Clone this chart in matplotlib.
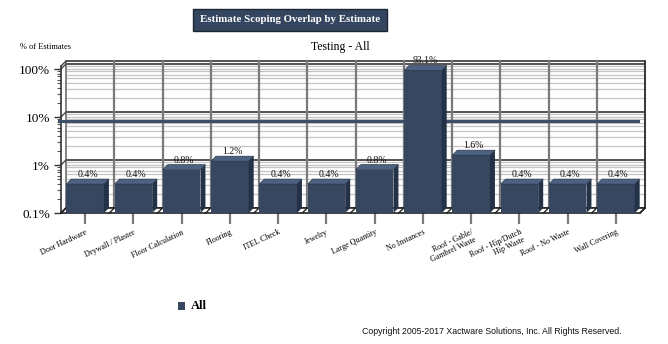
import matplotlib
matplotlib.use('Agg')
import matplotlib.pyplot as plt
from matplotlib.patches import Polygon, Rectangle
import numpy as np

categories = ["Door Hardware", "Drywall / Plaster", "Floor Calculation", "Flooring",
              "ITEL Check", "Jewelry", "Large Quantity", "No Instances",
              "Roof - Gable/\nGambrel Waste", "Roof - Hip/Dutch\nHip Waste",
              "Roof - No Waste", "Wall Covering"]
values = [0.4, 0.4, 0.8, 1.2, 0.4, 0.4, 0.8, 93.1, 1.6, 0.4, 0.4, 0.4]
y_ticks = [0.1, 1, 10, 100]
y_labels = ["0.1%", "1%", "10%", "100%"]
series_name = "All"

BAR = "#36475f"
TOP = "#4d6282"
SIDE = "#243247"
SERIF = "Liberation Serif"

W, H = 668, 344
fig = plt.figure(figsize=(W / 100, H / 100), dpi=100)
fig.patch.set_facecolor("white")

# front plane of the 3d plot
ax_l, ax_r, ax_b, ax_t = 61, 640, 213, 66
ax = fig.add_axes([ax_l / W, 1 - ax_b / H, (ax_r - ax_l) / W, (ax_b - ax_t) / H])
ax.set_yscale("log")
ymin = 0.1
decades = (ax_b - ax_t) / 48.0
ymax = ymin * 10 ** decades
n = len(categories)
ax.set_xlim(-0.5, n - 0.5)
ax.set_ylim(ymin, ymax)
for s in ax.spines.values():
    s.set_visible(False)
ax.patch.set_alpha(0)

# depth offset in data units
depth = 5
dxd = depth / ((ax_r - ax_l) / n)
fy = 10 ** (depth / 48.0)

# back wall grid
top_back = ymax * fy
for d in [0.1, 1, 10, 100]:
    for m in range(1, 10):
        v = d * m
        if v * fy > top_back or v < ymin:
            continue
        major = (m == 1)
        ax.plot([-0.5 + dxd, n - 0.5 + dxd], [v * fy, v * fy],
                color="#444444" if major else "#c4c4c4",
                lw=1.3 if major else 0.9, zorder=1, clip_on=False)
ax.plot([-0.5 + dxd, n - 0.5 + dxd], [top_back, top_back], color="#444444",
        lw=1.3, zorder=1, clip_on=False)
for k in range(n + 1):
    x = k - 0.5 + dxd
    ax.plot([x, x], [ymin * fy, top_back], color="#7a7a7a",
            lw=1.6 if 0 < k < n else 1.3, zorder=1, clip_on=False)
ax.plot([n - 0.5 + dxd] * 2, [ymin * fy, top_back], color="#333333", lw=1.3,
        zorder=1, clip_on=False)

# left wall diagonals
for d in y_ticks:
    ax.plot([-0.5, -0.5 + dxd], [d, d * fy], color="#444444", lw=1.0,
            zorder=1, clip_on=False)
ax.plot([-0.5, -0.5], [ymin, ymax], color="#333333", lw=1.2, zorder=2, clip_on=False)
ax.plot([-0.5, -0.5 + dxd], [ymax, top_back], color="#444444", lw=1.0,
        zorder=1, clip_on=False)

# floor
floor = Polygon([(-0.5, ymin), (n - 0.5, ymin), (n - 0.5 + dxd, ymin * fy),
                 (-0.5 + dxd, ymin * fy)], closed=True, facecolor="white",
                edgecolor="#222222", lw=1.2, zorder=2, clip_on=False)
ax.add_patch(floor)
for k in range(n + 1):
    ax.plot([k - 0.5, k - 0.5 + dxd], [ymin, ymin * fy], color="#222222",
            lw=1.0, zorder=2, clip_on=False)

# average line
avg = np.mean(values)
ax.plot([-0.55, n - 0.55], [avg, avg], color="#3d4e68", lw=2.2, zorder=3,
        clip_on=False)

# bars
bw = 0.78
for i, v in enumerate(values):
    x0, x1 = i - bw / 2, i + bw / 2
    ax.add_patch(Rectangle((x0, ymin), bw, v - ymin, facecolor=BAR,
                           edgecolor="none", zorder=4))
    ax.add_patch(Polygon([(x0, v), (x1, v), (x1 + dxd, v * fy), (x0 + dxd, v * fy)],
                         closed=True, facecolor=TOP, edgecolor="#2a374b",
                         lw=0.5, zorder=4, clip_on=False))
    ax.add_patch(Polygon([(x1, ymin), (x1 + dxd, ymin * fy), (x1 + dxd, v * fy), (x1, v)],
                         closed=True, facecolor=SIDE, edgecolor="none",
                         zorder=4, clip_on=False))
    ax.text(i + dxd / 2, v * fy, f"{v:.1f}%", ha="center", va="bottom",
            fontsize=7, family=SERIF, color="#111111", zorder=5)

# ticks and labels
ax.set_yticks(y_ticks)
ax.set_yticklabels(y_labels, family=SERIF, fontsize=9.5)
ax.tick_params(axis="y", which="major", length=5, width=1.0, color="#333333", pad=3)
ax.tick_params(axis="y", which="minor", length=3, width=0.8, color="#555555",
               labelleft=False)
ax.set_xticks(range(n))
ax.set_xticklabels(categories, rotation=25, ha="right", rotation_mode="anchor",
                   family=SERIF, fontsize=5.8, linespacing=0.95)
ax.tick_params(axis="x", length=8, width=1.6, color="#7a7a7a", pad=3)

# titles
fig.patches.append(Rectangle((193 / W, 1 - 31 / H), 194 / W, 22 / H,
                             transform=fig.transFigure, facecolor="#34465f",
                             edgecolor="#1c2533", lw=1.0))
fig.text(290 / W, 1 - 20 / H, "Estimate Scoping Overlap by Estimate", ha="center",
         va="center", color="white", fontsize=7.8, fontweight="bold", family=SERIF)
fig.text(340 / W, 1 - 47 / H, "Testing - All", ha="center", va="center",
         fontsize=8.5, family=SERIF)
fig.text(20 / W, 1 - 47 / H, "% of Estimates", ha="left", va="center",
         fontsize=6, family=SERIF)

# legend
fig.patches.append(Rectangle((178 / W, 1 - 310 / H), 7 / W, 8 / H,
                             transform=fig.transFigure, facecolor=BAR, edgecolor="none"))
fig.text(191 / W, 1 - 306 / H, series_name, ha="left", va="center", fontsize=9,
         fontweight="bold", family=SERIF)

fig.text(622 / W, 1 - 331 / H,
         "Copyright 2005-2017 Xactware Solutions, Inc. All Rights Reserved.",
         ha="right", va="center", fontsize=6.3, family="Liberation Sans", color="#111111")

fig.savefig("out.png", dpi=100)
